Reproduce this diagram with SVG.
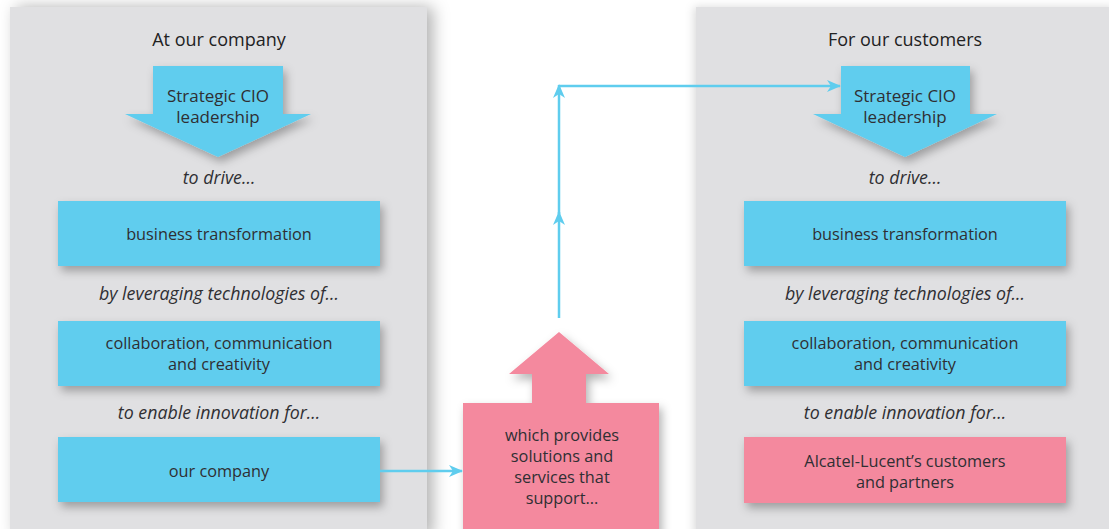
<svg xmlns="http://www.w3.org/2000/svg" width="1109" height="529" viewBox="0 0 1109 529">
<defs>
<style>
.panel{fill:#e0e0e2}
.blue{fill:#60cdee}
.pink{fill:#f4899e}
.t{font-family:"Open Sans","Noto Sans",sans-serif;font-size:16.3px;fill:#2f2f33;text-anchor:middle}
.cio{font-size:17px}
.ti{font-family:"Open Sans","Noto Sans",sans-serif;font-size:17.8px;font-style:italic;fill:#2f2f33;text-anchor:middle}
.h{font-family:"Open Sans","Noto Sans",sans-serif;font-size:18px;fill:#222;text-anchor:middle}
.c{stroke:#5fcdee;stroke-width:2.5;fill:none}
</style>
<filter id="sh" x="-20%" y="-30%" width="150%" height="180%">
<feDropShadow dx="3" dy="5" stdDeviation="5" flood-color="#000" flood-opacity="0.3"/>
</filter>
<filter id="psh" x="-10%" y="-5%" width="125%" height="115%">
<feDropShadow dx="6" dy="0" stdDeviation="8" flood-color="#000" flood-opacity="0.3"/>
</filter>
<filter id="psh2" x="-10%" y="-5%" width="125%" height="115%">
<feDropShadow dx="-2" dy="0" stdDeviation="5" flood-color="#000" flood-opacity="0.15"/>
</filter>
<marker id="ah" viewBox="0 0 14 12" refX="13" refY="6" markerWidth="14" markerHeight="12" markerUnits="userSpaceOnUse" orient="auto">
<path d="M0,0 L14,6 L0,12 L4,6 Z" fill="#5fcdee"/>
</marker>
</defs>
<rect width="1109" height="529" fill="#fff"/>
<g id="panel-left">
<rect class="panel" x="10" y="7" width="417" height="530" filter="url(#psh)"/>
<text class="h" x="219" y="46">At our company</text>
</g>
<g id="panel-right">
<rect class="panel" x="696" y="7" width="420" height="530" filter="url(#psh2)"/>
<text class="h" x="905" y="46">For our customers</text>
</g>
<g id="left-cio">
<path class="blue" d="M153,66 H283 V114 H311 L218,157 L125,114 H153 Z" filter="url(#sh)"/>
<text class="t cio" x="218" y="102">Strategic CIO</text>
<text class="t cio" x="218" y="123">leadership</text>
</g>
<g id="left-labels">
<text class="ti" x="219" y="184">to drive...</text>
<text class="ti" x="219" y="300">by leveraging technologies of...</text>
<text class="ti" x="219" y="419">to enable innovation for...</text>
</g>
<g id="left-bt">
<rect class="blue" x="58" y="201" width="322" height="65" filter="url(#sh)"/>
<text class="t" x="219" y="240">business transformation</text>
</g>
<g id="left-ccc">
<rect class="blue" x="58" y="321" width="322" height="65" filter="url(#sh)"/>
<text class="t" x="219" y="349">collaboration, communication</text>
<text class="t" x="219" y="370">and creativity</text>
</g>
<g id="left-company">
<rect class="blue" x="58" y="437" width="322" height="65" filter="url(#sh)"/>
<text class="t" x="219" y="477">our company</text>
</g>
<g id="right-cio">
<path class="blue" d="M841,66 H970 V114 H997 L905,157 L813,114 H841 Z" filter="url(#sh)"/>
<text class="t cio" x="905" y="102">Strategic CIO</text>
<text class="t cio" x="905" y="123">leadership</text>
</g>
<g id="right-labels">
<text class="ti" x="905" y="184">to drive...</text>
<text class="ti" x="905" y="300">by leveraging technologies of...</text>
<text class="ti" x="905" y="419">to enable innovation for...</text>
</g>
<g id="right-bt">
<rect class="blue" x="744" y="201" width="322" height="65" filter="url(#sh)"/>
<text class="t" x="905" y="240">business transformation</text>
</g>
<g id="right-ccc">
<rect class="blue" x="744" y="321" width="322" height="65" filter="url(#sh)"/>
<text class="t" x="905" y="349">collaboration, communication</text>
<text class="t" x="905" y="370">and creativity</text>
</g>
<g id="right-customers">
<rect class="pink" x="744" y="437" width="322" height="66" filter="url(#sh)"/>
<text class="t" x="905" y="467">Alcatel-Lucent’s customers</text>
<text class="t" x="905" y="488">and partners</text>
</g>
<g id="center-provider">
<path class="pink" d="M463,403 H532 V374 H509 L559,332 L609,374 H586 V403 H659 V540 H463 Z" filter="url(#sh)"/>
<text class="t" x="562" y="441">which provides</text>
<text class="t" x="562" y="462">solutions and</text>
<text class="t" x="562" y="483">services that</text>
<text class="t" x="562" y="504">support...</text>
</g>
<g id="connectors">
<line class="c" x1="380" y1="471" x2="462" y2="471" marker-end="url(#ah)"/>
<line class="c" x1="559" y1="318" x2="559" y2="212" marker-end="url(#ah)"/>
<line class="c" x1="559" y1="214" x2="559" y2="85" marker-end="url(#ah)"/>
<line class="c" x1="559" y1="86" x2="840" y2="86" marker-end="url(#ah)"/>
</g>
</svg>
